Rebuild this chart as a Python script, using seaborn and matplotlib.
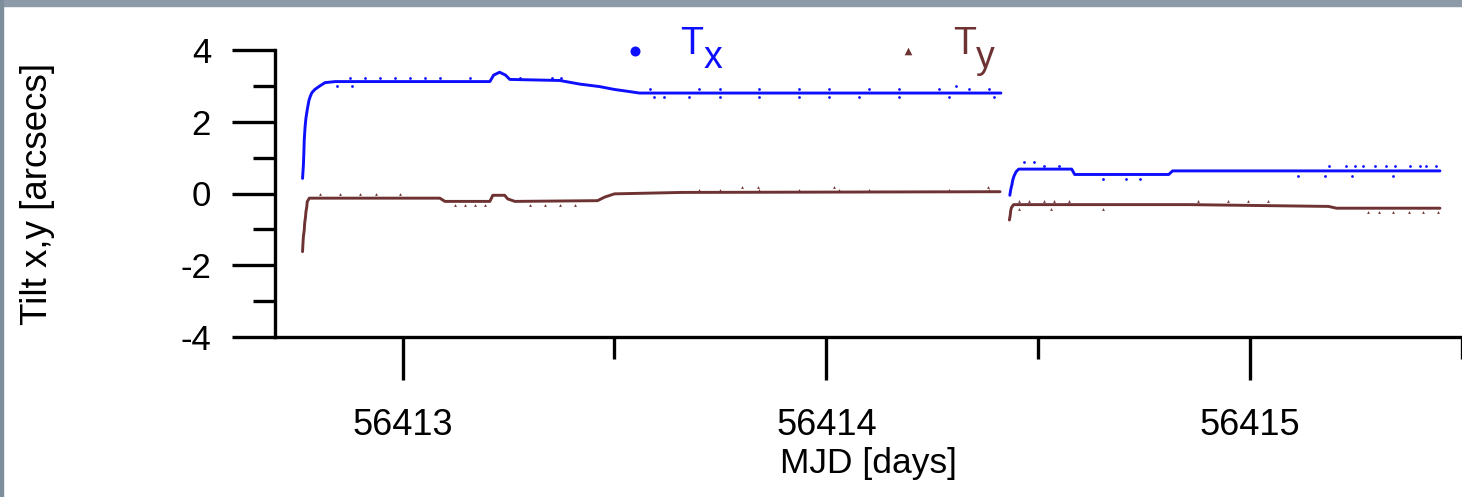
import pandas as pd
import matplotlib
matplotlib.use("Agg")
import matplotlib.pyplot as plt
import seaborn as sns
from matplotlib.ticker import MultipleLocator, StrMethodFormatter
from matplotlib.legend_handler import HandlerPathCollection
from matplotlib.patches import Rectangle

BLUE = "#0f0fff"
BROWN = "#6e3232"

# --- main band of each tilt series (MJD, arcsec) ---
tx_line_mjd = [56412.764, 56412.766, 56412.767, 56412.768, 56412.770, 56412.772,
               56412.775, 56412.779, 56412.782, 56412.786, 56412.793, 56412.805,
               56412.817, 56412.841, 56413.206, 56413.215, 56413.229, 56413.243,
               56413.253, 56413.371, 56413.418, 56413.465, 56413.500, 56413.536,
               56413.559, 56414.412,
               56414.433, 56414.435, 56414.438, 56414.440, 56414.443, 56414.448,
               56414.454, 56414.579, 56414.586, 56414.808, 56414.817, 56415.448]
tx_line_val = [0.42, 0.79, 1.10, 1.49, 1.86, 2.10,
               2.33, 2.59, 2.70, 2.81, 2.90, 3.00,
               3.09, 3.12, 3.12, 3.30, 3.38, 3.30,
               3.18, 3.15, 3.05, 2.98, 2.90, 2.84,
               2.80, 2.80,
               -0.05, 0.10, 0.25, 0.38, 0.49, 0.61,
               0.68, 0.68, 0.53, 0.53, 0.63, 0.63]
tx_line_run = [1] * 26 + [2] * 12

ty_line_mjd = [56412.764, 56412.765, 56412.766, 56412.768, 56412.769, 56412.771,
               56412.772, 56412.774, 56412.775, 56412.780, 56413.088, 56413.100,
               56413.206, 56413.213, 56413.241, 56413.248, 56413.265, 56413.460,
               56413.477, 56413.500, 56413.660, 56414.410,
               56414.432, 56414.434, 56414.435, 56414.437, 56414.442, 56414.855,
               56415.185, 56415.204, 56415.448]
ty_line_val = [-1.62, -1.39, -1.20, -1.02, -0.83, -0.65,
               -0.51, -0.37, -0.23, -0.13, -0.13, -0.22,
               -0.22, -0.05, -0.05, -0.15, -0.22, -0.20,
               -0.10, -0.01, 0.03, 0.05,
               -0.74, -0.60, -0.48, -0.39, -0.31, -0.31,
               -0.36, -0.41, -0.41]
ty_line_run = [1] * 22 + [2] * 9

# --- scattered samples off the main band ---
tx_dot_mjd = [56412.876, 56412.911, 56412.946, 56412.982, 56413.017, 56413.053,
              56413.088, 56413.159, 56413.276, 56413.352, 56413.375,
              56412.845, 56412.881,
              56413.583, 56413.700, 56413.748, 56413.842, 56413.936, 56414.007,
              56414.101, 56414.172, 56414.266, 56414.337, 56414.384,
              56413.594, 56413.618, 56413.677, 56413.748, 56413.842, 56413.936,
              56414.007, 56414.077, 56414.172, 56414.290, 56414.396, 56414.306,
              56414.466, 56414.490, 56414.513, 56414.549,
              56414.654, 56414.708, 56414.741,
              56415.185, 56415.227, 56415.248, 56415.267, 56415.295, 56415.321,
              56415.343, 56415.378, 56415.401, 56415.416, 56415.439,
              56415.114, 56415.177, 56415.241, 56415.338]
tx_dot_val = [3.21, 3.21, 3.21, 3.21, 3.21, 3.21,
              3.21, 3.21, 3.21, 3.21, 3.21,
              3.00, 3.00,
              2.91, 2.91, 2.91, 2.91, 2.91, 2.91,
              2.91, 2.91, 2.91, 2.91, 2.91,
              2.70, 2.70, 2.70, 2.70, 2.70, 2.70,
              2.70, 2.70, 2.70, 2.70, 2.70, 3.00,
              0.88, 0.88, 0.78, 0.78,
              0.40, 0.40, 0.40,
              0.76, 0.76, 0.76, 0.76, 0.76, 0.76,
              0.76, 0.76, 0.76, 0.76, 0.76,
              0.49, 0.49, 0.49, 0.49]

ty_dot_mjd = [56412.805, 56412.852, 56412.899, 56412.937, 56412.994,
              56413.123, 56413.147, 56413.170, 56413.194,
              56413.300, 56413.335, 56413.371, 56413.406,
              56413.700, 56413.748, 56413.842, 56413.936, 56414.031, 56414.101,
              56414.290, 56414.384,
              56413.802, 56413.839, 56414.018, 56414.381,
              56414.454, 56414.478, 56414.513, 56414.537, 56414.572, 56414.878,
              56414.949, 56414.996, 56415.043,
              56414.454, 56414.530, 56414.652,
              56415.279, 56415.303, 56415.338, 56415.374, 56415.409, 56415.444]
ty_dot_val = [-0.01, -0.01, -0.01, -0.01, -0.01,
              -0.31, -0.31, -0.31, -0.31,
              -0.31, -0.31, -0.31, -0.31,
              0.10, 0.10, 0.10, 0.10, 0.10, 0.10,
              0.10, 0.10,
              0.19, 0.19, 0.19, 0.19,
              -0.21, -0.21, -0.21, -0.21, -0.21, -0.21,
              -0.21, -0.21, -0.21,
              -0.43, -0.43, -0.43,
              -0.51, -0.51, -0.51, -0.51, -0.51, -0.51]

tx_line = pd.DataFrame({"mjd": tx_line_mjd, "tilt": tx_line_val, "run": tx_line_run})
ty_line = pd.DataFrame({"mjd": ty_line_mjd, "tilt": ty_line_val, "run": ty_line_run})

sns.set_theme(style="ticks")
plt.rcParams["font.family"] = ["Liberation Sans", "DejaVu Sans"]
plt.rcParams["axes.unicode_minus"] = False
for key in ["text.color", "axes.labelcolor", "xtick.color", "ytick.color"]:
    plt.rcParams[key] = "black"

fig = plt.figure(figsize=(14.62, 4.97), dpi=100)
ax = fig.add_axes([275 / 1462, 1 - 337 / 497, 1 - 275 / 1462, (337 - 50) / 497])

sns.lineplot(data=tx_line, x="mjd", y="tilt", units="run", estimator=None,
             sort=False, color=BLUE, lw=2.1, ax=ax)
sns.lineplot(data=ty_line, x="mjd", y="tilt", units="run", estimator=None,
             sort=False, color=BROWN, lw=2.1, ax=ax)
sns.scatterplot(x=tx_dot_mjd, y=tx_dot_val, color=BLUE, marker="o", s=4,
                linewidth=0, ax=ax)
sns.scatterplot(x=ty_dot_mjd, y=ty_dot_val, color=BROWN, marker="^", s=4,
                linewidth=0, ax=ax)

ax.set_xlim(56412.699, 56415.5)
ax.set_ylim(-4, 4)
ax.xaxis.set_major_locator(MultipleLocator(1))
ax.xaxis.set_minor_locator(MultipleLocator(0.5))
ax.xaxis.set_major_formatter(StrMethodFormatter("{x:.0f}"))
ax.yaxis.set_major_locator(MultipleLocator(2))
ax.yaxis.set_minor_locator(MultipleLocator(1))

sns.despine(ax=ax)
for side in ["left", "bottom"]:
    ax.spines[side].set_linewidth(2.4)
    ax.spines[side].set_color("black")
ax.tick_params(which="major", length=31, width=2.4, color="black")
ax.tick_params(which="minor", length=16, width=2.4, color="black")
ax.tick_params(axis="x", which="major", pad=20, labelsize=26)
ax.tick_params(axis="y", which="major", pad=15, labelsize=25)

ax.set_xlabel("MJD [days]", fontsize=25.5, labelpad=3)
ax.set_ylabel("Tilt x,y [arcsecs]", fontsize=26.5)
ax.yaxis.set_label_coords(-0.1853, 0.5)

# legend: big symbols, "T" with subscript added after layout
tx_dots, ty_dots = ax.collections[0], ax.collections[1]
leg = ax.legend([tx_dots, ty_dots], ["T", "T"], ncol=2, frameon=False,
                fontsize=27, loc="center left",
                bbox_to_anchor=(626 / 1462, 1 - 44.5 / 497),
                bbox_transform=fig.transFigure,
                handlelength=0.5, handletextpad=0.95, columnspacing=5.2,
                borderpad=0, borderaxespad=0,
                handler_map={tx_dots: HandlerPathCollection(yoffsets=[0.12], sizes=[52]),
                             ty_dots: HandlerPathCollection(yoffsets=[0.12], sizes=[30])})
for txt, c in zip(leg.get_texts(), [BLUE, BROWN]):
    txt.set_color(c)

fig.canvas.draw()
W, H = fig.bbox.width, fig.bbox.height
for txt, sub, c in zip(leg.get_texts(), ["x", "y"], [BLUE, BROWN]):
    bb = txt.get_window_extent()
    fig.text(bb.x1 / W, (bb.y0 - 14) / H, sub, color=c, fontsize=27,
             ha="left", va="bottom")

# grey window frame along the top and left edges
fig.patches.append(Rectangle((0, 1 - 6 / 497), 1, 6 / 497, transform=fig.transFigure,
                             color="#8d9ba8", zorder=5))
fig.patches.append(Rectangle((0, 0), 3 / 1462, 1, transform=fig.transFigure,
                             color="#7f8e9b", zorder=5))

fig.savefig("out.png", dpi=100)
